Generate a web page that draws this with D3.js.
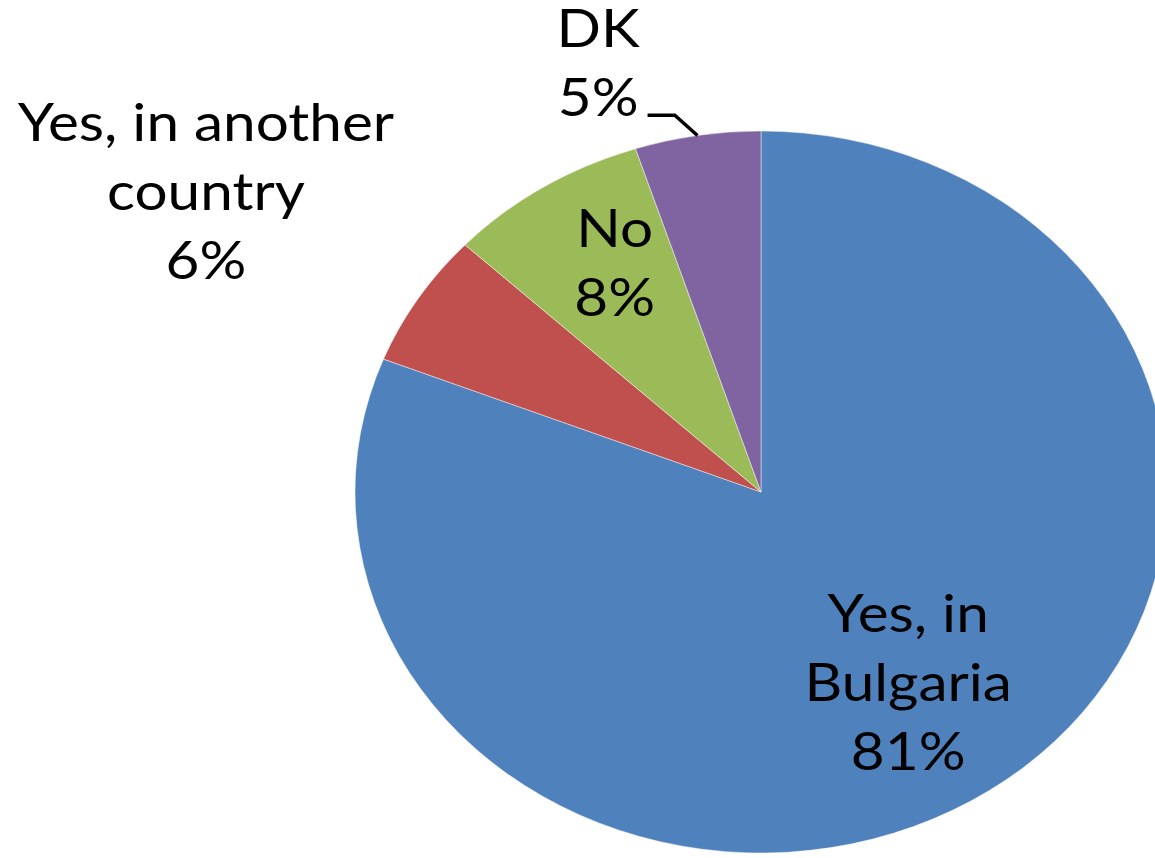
<!DOCTYPE html>
<html>
<head>
<meta charset="utf-8">
<script src="https://cdn.jsdelivr.net/npm/d3@7/dist/d3.min.js"></script>
<style>
  html, body { margin: 0; padding: 0; background: #fff; }
  svg { display: block; }
</style>
</head>
<body>
<svg id="chart" width="1155" height="858"></svg>
<script>
// Survey answers and their shares (percent)
const categories = ["Yes, in Bulgaria", "Yes, in another country", "No", "DK"];
const values = [81, 6, 8, 5];
const labelLines = [
  ["Yes, in", "Bulgaria", "81%"],
  ["Yes, in another", "country", "6%"],
  ["No", "8%"],
  ["DK", "5%"]
];
const colors = ["#4F81BD", "#C0504D", "#9BBB59", "#8064A2"];

// Layout
const W = 1155, H = 858;
const cx = 761, cy = 492;
const rx = 406, ry = 361;          // the pie is drawn slightly wider than tall
const stretch = rx / ry;
const fontSize = 52, lineH = 69;
// label placement: radial factor and angular shift (degrees) from slice mid-angle
const labelPos = [
  { f: 0.64, shift: -0.3 },
  { f: 1.60, shift: -1.1 },
  { f: 0.73, shift: 2.8 },
  { f: 1.254, shift: -9.65 }
];

const svg = d3.select("#chart");

const pie = d3.pie().sort(null).value(d => d)(values);
const arc = d3.arc().innerRadius(0).outerRadius(ry);

const g = svg.append("g")
  .attr("transform", `translate(${cx},${cy}) scale(${stretch},1)`);

g.selectAll("path")
  .data(pie)
  .join("path")
  .attr("d", arc)
  .attr("fill", (d, i) => colors[i])
  .attr("stroke", "rgba(255,255,255,0.45)")
  .attr("stroke-width", 1)
  .attr("vector-effect", "non-scaling-stroke");

// point on the (elliptical) pie at a given angle and radial factor
function pt(angle, f) {
  return [cx + Math.sin(angle) * f * rx, cy - Math.cos(angle) * f * ry];
}

const labels = svg.append("g")
  .attr("font-family", "Lato, 'Open Sans', sans-serif")
  .attr("font-size", fontSize)
  .attr("fill", "#000");

const blocks = [];
pie.forEach((d, i) => {
  const mid = (d.startAngle + d.endAngle) / 2 + labelPos[i].shift * Math.PI / 180;
  const [x, y] = pt(mid, labelPos[i].f);
  const lines = labelLines[i];
  const t = labels.append("text")
    .attr("text-anchor", "middle")
    .attr("transform", `translate(${x},${y}) scale(${stretch},1)`);
  lines.forEach((ln, k) => {
    t.append("tspan")
      .attr("x", 0)
      .attr("y", (k - (lines.length - 1) / 2) * lineH + fontSize * 0.35)
      .text(ln);
  });
  blocks.push({ x, y, text: t, lines });
});

// leader line for the small DK slice
const dk = pie[3];
const dkMid = (dk.startAngle + dk.endAngle) / 2;
const start = pt(dkMid, 1.0);
const elbow = pt(dkMid - 2.5 * Math.PI / 180, 1.065);
const lastSpan = blocks[3].text.selectAll("tspan").nodes().slice(-1)[0];
const halfW = lastSpan.getComputedTextLength() * stretch / 2;
const endX = blocks[3].x + halfW + 9;
svg.append("path")
  .attr("d", d3.line()([start, elbow, [endX, elbow[1]]]))
  .attr("fill", "none")
  .attr("stroke", "#000")
  .attr("stroke-width", 3.5);
</script>
</body>
</html>
